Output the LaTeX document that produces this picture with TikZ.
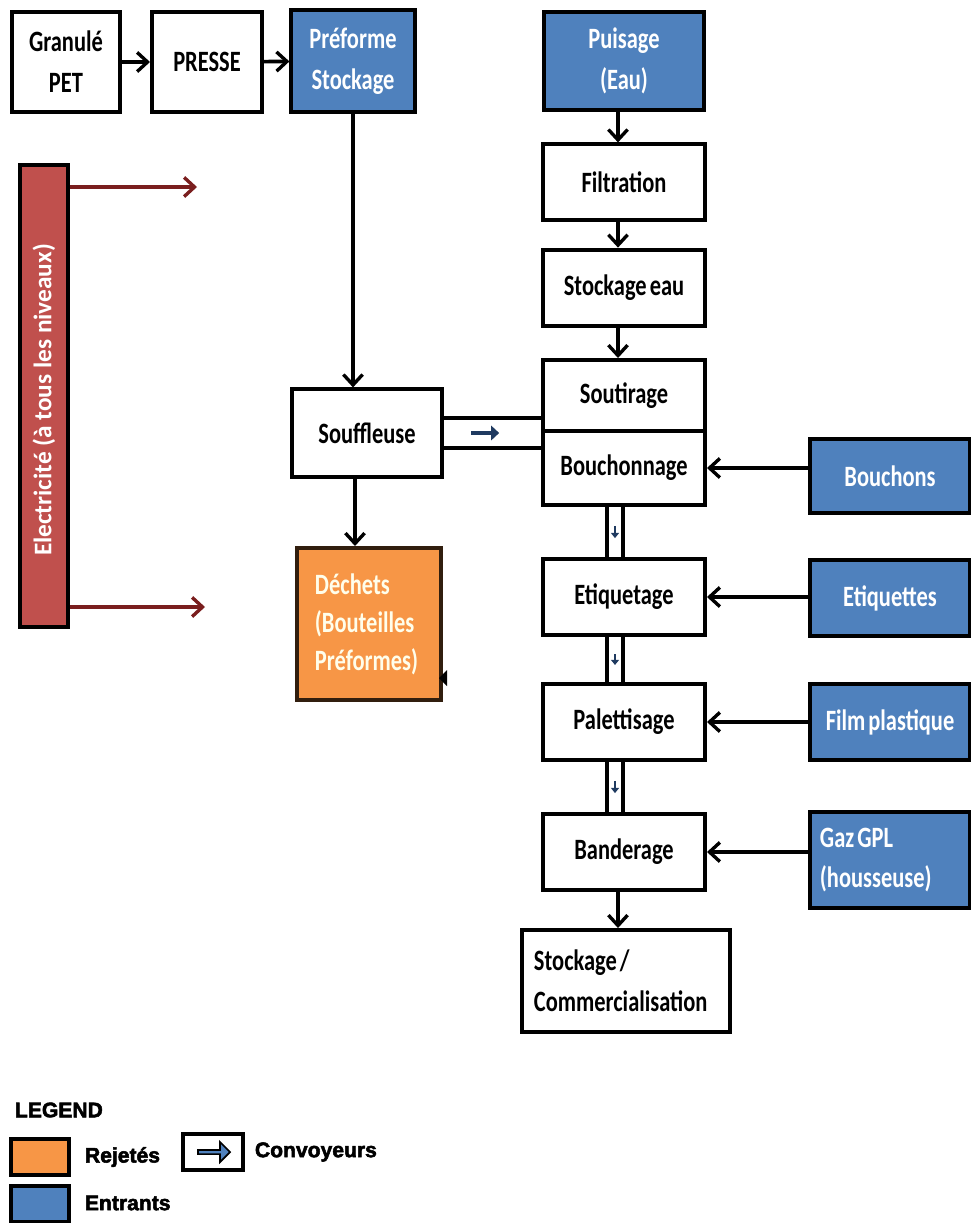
\documentclass[tikz,border=0pt]{standalone}
\usepackage{fontspec}
\setmainfont{Carlito}
\newfontfamily\boxfont[FakeStretch=0.76,WordSpace=0.6]{Carlito}
\newfontfamily\legfont[BoldFeatures={FakeBold=2.5}]{Liberation Sans}
\usetikzlibrary{arrows.meta,calc,positioning,shapes.arrows}
\definecolor{entblue}{HTML}{4F81BD}
\definecolor{rejorange}{HTML}{F79646}
\definecolor{elecred}{HTML}{C0504D}
\definecolor{wirered}{HTML}{7A1E1E}
\definecolor{convnavy}{HTML}{1F3A60}

\tikzset{
  procbox/.style={draw, line width=2.8pt, fill=white, inner sep=0pt, align=center,
    font=\boxfont\bfseries\fontsize{21}{29}\selectfont},
  entrant/.style={procbox, fill=entblue, text=white},
  rejet/.style={procbox, fill=rejorange, draw=black!80!rejorange, text=white!92!yellow},
  flow/.style={line width=2.6pt, -{Straight Barb[length=2.6mm,width=4.8mm,line width=2.4pt]}},
  wire/.style={line width=2.6pt, wirered, -{Straight Barb[length=2.6mm,width=4.8mm,line width=2.4pt]}},
  convline/.style={line width=2.6pt},
  convarrow/.style={line width=3.4pt, convnavy, -{Triangle[length=2mm,width=3.6mm]}},
  legtext/.style={anchor=west, font=\legfont\bfseries\fontsize{15}{18}\selectfont},
}

\begin{document}
\begin{tikzpicture}[x=0.025cm, y=-0.025cm]
\useasboundingbox (0,0) rectangle (971,1223);

% preformes
\node[procbox, minimum width=2.7cm, minimum height=2.5cm] (granule) at (66,62) {Granulé\\PET};
\node[procbox, minimum width=2.75cm, minimum height=2.5cm] (presse) at (207,62) {PRESSE};
\node[entrant, minimum width=3.08cm, minimum height=2.55cm] (preforme) at (353,61) {Préforme\\Stockage};
\node[procbox, minimum width=3.75cm, minimum height=2.18cm] (souf) at (367,433) {Souffleuse};
\node[rejet, minimum width=3.6cm, minimum height=3.8cm, text width=2.7cm, align=flush left,
  font=\boxfont\bfseries\fontsize{21}{27}\selectfont] (dechets) at (369,624) {Déchets\\(Bouteilles\\Préformes)};
\fill (447,670) -- (447,686) -- (439,678) -- cycle;

% electricite
\node[draw, line width=2.8pt, fill=elecred, minimum width=1.2cm, minimum height=11.55cm] (elec) at (44,396) {};
\node[rotate=90, text=white, font=\bfseries\fontsize{18}{21}\selectfont] (electxt) at (44,400) {Electricité (à tous les niveaux)};
\coordinate (e1) at (197,187);
\coordinate (e2) at (205,607);
\draw[wire] (elec.east |- e1) -- (e1);
\draw[wire] (elec.east |- e2) -- (e2);

% ligne eau
\node[entrant, minimum width=4cm, minimum height=2.45cm] (puisage) at (624,61) {Puisage\\(Eau)};
\node[procbox, minimum width=4.05cm, minimum height=1.88cm] (filt) at (624,182) {Filtration};
\node[procbox, minimum width=4.05cm, minimum height=1.92cm] (stockeau) at (624,288) {Stockage eau};
\node[procbox, minimum width=4.05cm, minimum height=1.8cm] (sout) at (624,396) {Soutirage};
\node[procbox, minimum width=4.05cm, minimum height=1.83cm] (bouch) at (624,468) {Bouchonnage};
\node[procbox, minimum width=4.05cm, minimum height=1.88cm] (etiq) at (624,597) {Etiquetage};
\node[procbox, minimum width=4.05cm, minimum height=1.88cm] (palet) at (624,722) {Palettisage};
\node[procbox, minimum width=4.05cm, minimum height=1.88cm] (band) at (624,852) {Banderage};
\node[procbox, minimum width=5.2cm, minimum height=2.55cm, text width=4.6cm, align=flush left] (stockcom) at (626,981) {Stockage /\\Commercialisation};

% entrants
\node[entrant, minimum width=4cm, minimum height=1.85cm] (bouchons) at (890,476) {Bouchons};
\node[entrant, minimum width=4cm, minimum height=1.9cm] (etiquettes) at (890,598) {Etiquettes};
\node[entrant, minimum width=4cm, minimum height=1.88cm] (film) at (890,722) {Film plastique};
\node[entrant, minimum width=4cm, minimum height=2.38cm, text width=3.5cm, align=flush left] (gaz) at (890,860) {Gaz GPL\\(housseuse)};

% fleches
\draw[flow] (granule) -- (presse);
\draw[flow] (presse) -- (preforme);
\draw[flow] (preforme.south) -- (preforme.south |- souf.north);
\draw[flow] ([xshift=-0.3cm]souf.south) -- ([xshift=-0.3cm]souf.south |- dechets.north);
\foreach \a/\b in {puisage/filt, filt/stockeau, stockeau/sout}
  \draw[flow] ([xshift=-0.15cm]\a.south) -- ([xshift=-0.15cm]\b.north);
\draw[flow] ([xshift=-0.15cm]band.south) -- ([xshift=-0.15cm]band.south |- stockcom.north);
\foreach \s/\t in {bouchons/bouch, etiquettes/etiq, film/palet, gaz/band}
  \draw[flow] (\s.west |- \t.east) -- (\t.east);

% convoyeurs
\draw[convline] ([yshift=0.375cm]souf.east) -- ([yshift=0.375cm]souf.east -| bouch.west);
\draw[convline] ([yshift=-0.375cm]souf.east) -- ([yshift=-0.375cm]souf.east -| bouch.west);
\draw[convarrow] ($(souf.east)!0.28!(souf.east -| bouch.west)$) -- ++(28,0);
\foreach \a/\b in {bouch/etiq, etiq/palet, palet/band}{
  \draw[convline] ([xshift=-0.425cm]\a.south) -- ([xshift=-0.425cm]\b.north);
  \draw[convline] ([xshift=-0.025cm]\a.south) -- ([xshift=-0.025cm]\b.north);
  \draw[convnavy, line width=1.6pt, -{Triangle[length=1.3mm,width=2mm]}]
    ([xshift=-0.225cm]$(\a.south)!0.38!(\b.north)$) -- ([xshift=-0.225cm]$(\a.south)!0.62!(\b.north)$);
}

% legende
\node[legtext] (legtitle) at (10,1110) {LEGEND};
\node[draw, line width=2.8pt, fill=rejorange, minimum width=1.45cm, minimum height=0.92cm] (legrej) at (40,1157) {};
\node[legtext] (legrejtxt) at (80,1157) {Rejetés};
\node[draw, line width=2.8pt, minimum width=1.5cm, minimum height=0.92cm] (legconv) at (213,1152) {};
\node[single arrow, draw=black, fill=entblue, line width=1.2pt, minimum height=0.8cm,
  minimum width=0.5cm, single arrow head extend=0.08cm, inner sep=0pt] (legarrow) at (legconv.center) {};
\node[legtext] (legconvtxt) at (250,1152) {Convoyeurs};
\node[draw, line width=2.8pt, fill=entblue, minimum width=1.45cm, minimum height=0.92cm] (legent) at (40,1204) {};
\node[legtext] (legenttxt) at (80,1203) {Entrants};
\end{tikzpicture}
\end{document}
